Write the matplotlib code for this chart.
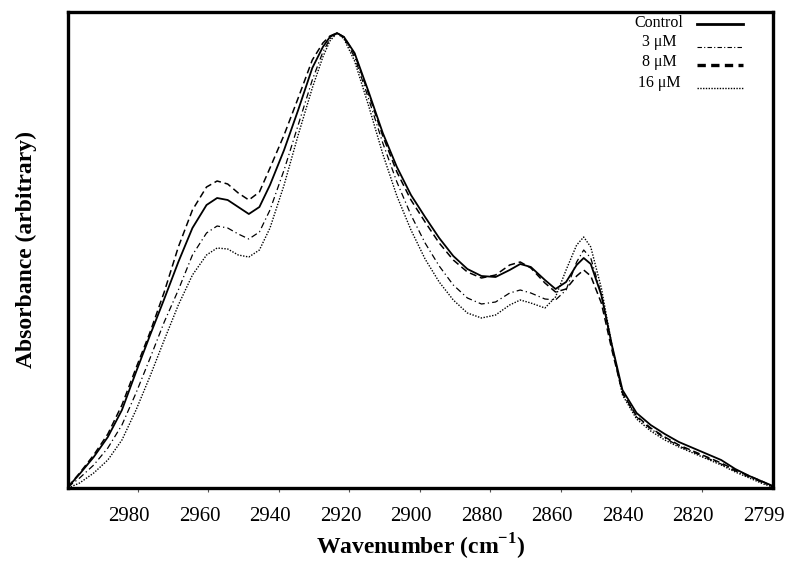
import matplotlib
matplotlib.use("Agg")
from matplotlib import pyplot as plt
from matplotlib.lines import Line2D

plt.rcParams['font.family'] = ['Liberation Serif', 'DejaVu Serif']
plt.rcParams['mathtext.fontset'] = 'custom'
plt.rcParams['mathtext.rm'] = 'Liberation Serif'
plt.rcParams['mathtext.bf'] = 'Liberation Serif:bold'

wavenumber = [2997.3, 2994, 2990, 2986, 2982, 2978, 2974, 2970, 2966, 2962,
              2958, 2955, 2952, 2949, 2946, 2943, 2940, 2936, 2932, 2928,
              2925, 2923, 2921, 2919, 2916, 2912, 2908, 2904, 2900, 2896,
              2892, 2888, 2884, 2880, 2876, 2872, 2869, 2866, 2862, 2859,
              2856, 2853, 2851, 2849, 2846, 2843, 2840, 2836, 2832, 2828,
              2824, 2820, 2816, 2812, 2808, 2804, 2800, 2797.3]

control = [1, 14, 31, 51, 78, 116, 153, 189, 226, 260,
           283, 290, 288, 281, 274, 281, 303, 338, 378, 420,
           441, 451, 455, 451, 435, 396, 355, 321, 293, 271,
           250, 232, 219, 212, 211, 218, 224, 221, 208, 199,
           206, 223, 230, 224, 193, 143, 98, 75, 63, 54,
           46, 40, 34, 28, 19, 12, 6, 2]

um3 = [1, 10, 23, 40, 63, 95, 130, 166, 198, 233,
       255, 262, 260, 254, 249, 256, 278, 318, 363, 408,
       436, 449, 455, 450, 431, 389, 345, 306, 273, 245,
       222, 203, 190, 184, 186, 195, 198, 195, 189, 188,
       198, 226, 238, 230, 194, 141, 95, 71, 59, 50,
       42, 36, 30, 24, 17, 11, 5, 1]

um8 = [1, 15, 33, 54, 83, 120, 156, 196, 241, 278,
       301, 307, 304, 295, 288, 296, 320, 353, 390, 428,
       445, 452, 455, 451, 434, 394, 352, 316, 288, 266,
       245, 228, 216, 210, 213, 223, 226, 220, 205, 196,
       199, 212, 218, 212, 185, 138, 95, 72, 60, 51,
       43, 37, 31, 25, 18, 12, 6, 1]

um16 = [0, 5, 15, 28, 48, 78, 112, 148, 183, 213,
        233, 240, 239, 233, 231, 238, 260, 303, 353, 400,
        431, 447, 455, 449, 427, 382, 334, 292, 258, 229,
        206, 188, 175, 170, 173, 183, 188, 185, 180, 191,
        218, 243, 251, 241, 200, 143, 93, 69, 57, 48,
        41, 35, 29, 23, 16, 10, 4, 1]

tick_vals = [2980, 2960, 2940, 2920, 2900, 2880, 2860, 2840, 2820, 2800]
tick_labels = ["2980", "2960", "2940", "2920", "2900", "2880", "2860", "2840", "2820", "2799"]

series = [("Control", control, "-", 1.3),
          ("3 \u03bcM", um3, (0, (5, 2.5, 1, 2.5)), 0.9),
          ("8 \u03bcM", um8, (0, (4.5, 2.5)), 1.1),
          ("16 \u03bcM", um16, (0, (1, 1.1)), 1.0)]

fig = plt.figure(figsize=(7.85, 5.64), dpi=100)
ax = fig.add_axes([68/785, 1-488/564, 705/785, 476/564])

for name, vals, ls, lw in series:
    ax.plot(wavenumber, vals, color="black", linestyle=ls, linewidth=lw)

ax.set_xlim(2997.3, 2797.3)
ax.set_ylim(0, 476)
ax.set_yticks([])
ax.set_xticks(tick_vals)
ax.set_xticklabels(tick_labels, fontsize=15)
ax.set_xticks([v - 2.55 for v in tick_vals[:-1]], minor=True)
ax.tick_params(axis="x", which="major", length=0, pad=14)
ax.tick_params(axis="x", which="minor", length=3, width=0.8, color="#555555")
for s in ax.spines.values():
    s.set_linewidth(2.4)

ax.set_xlabel(r"Wavenumber (cm$^{\mathbf{-1}}$)", fontsize=17, fontweight="bold", labelpad=4)
ax.set_ylabel("Absorbance (arbitrary)", fontsize=17, fontweight="bold", labelpad=22)

# legend drawn by hand, like the original
leg = [("Control", 23, 24, "-", 2.0),
       ("3 \u03bcM", 42, 47, (0, (4, 2, 1, 2)), 0.8),
       ("8 \u03bcM", 62, 65, (0, (2.5, 1.6)), 2.4),
       ("16 \u03bcM", 83, 88, (0, (1, 1)), 1.0)]
for name, ty, ly, ls, lw in leg:
    fig.text(659/785, 1-ty/564, name, ha="center", va="center", fontsize=11.5)
    fig.add_artist(Line2D([697/785, 743/785], [1-ly/564, 1-ly/564], color="black",
                          linestyle=ls, linewidth=lw, transform=fig.transFigure))

fig.savefig("out.png", dpi=100)
